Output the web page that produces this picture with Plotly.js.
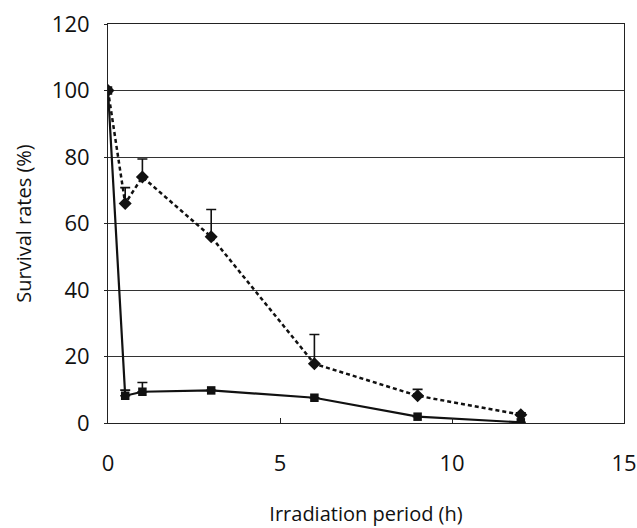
<!DOCTYPE html>
<html><head><meta charset="utf-8">
<script src="https://cdn.plot.ly/plotly-3.0.1.min.js"></script>
<style>html,body{margin:0;padding:0;background:#fff}</style>
</head><body>
<div id="chart" style="width:637px;height:528px"></div>
<script>
const hours = [0, 0.5, 1, 3, 6, 9, 12];
const dashedValues = [100, 66, 74, 56, 17.8, 8.2, 2.5];
const dashedErrUp = [0, 4.8, 5.4, 8.2, 8.8, 1.9, 0.6];
const solidValues = [100, 8.2, 9.4, 9.8, 7.6, 1.9, 0.2];
const solidErrUp = [0, 1.7, 2.8, 0, 0, 0, 0];
const zeros = [0, 0, 0, 0, 0, 0, 0];
const xTicks = [0, 5, 10, 15];
const yTicks = [0, 20, 40, 60, 80, 100, 120];

const traces = [
  {
    x: hours, y: dashedValues, type: 'scatter', mode: 'lines+markers',
    line: {color: '#111', width: 2.5, dash: '4px,3px'},
    marker: {symbol: 'diamond', size: 10, color: '#111'},
    error_y: {type: 'data', symmetric: false, array: dashedErrUp, arrayminus: zeros,
              color: '#111', thickness: 1.6, width: 5},
    showlegend: false
  },
  {
    x: hours, y: solidValues, type: 'scatter', mode: 'lines+markers',
    line: {color: '#111', width: 2.2},
    marker: {symbol: 'square', size: 8.5, color: '#111'},
    error_y: {type: 'data', symmetric: false, array: solidErrUp, arrayminus: zeros,
              color: '#111', thickness: 1.6, width: 5},
    showlegend: false
  }
];

const layout = {
  width: 637, height: 528,
  margin: {l: 108, r: 13, t: 24, b: 105},
  paper_bgcolor: '#fff', plot_bgcolor: '#fff',
  font: {family: 'Open Sans, sans-serif', color: '#111'},
  xaxis: {
    range: [0, 15], tickvals: xTicks, ticktext: xTicks.map(String),
    showgrid: false, zeroline: false, showline: true, mirror: true,
    linecolor: '#222', linewidth: 1, ticks: 'inside', ticklen: 5, tickcolor: '#222',
    tickfont: {size: 22, family: 'Open Sans, sans-serif'},
    ticklabelstandoff: 21,
    title: {text: 'Irradiation period (h)', font: {size: 20, family: 'Open Sans, sans-serif'}, standoff: 30}
  },
  yaxis: {
    range: [0, 120], tickvals: yTicks, ticktext: yTicks.map(String),
    showgrid: true, gridcolor: '#333', gridwidth: 1, zeroline: false,
    showline: true, mirror: true, linecolor: '#222', linewidth: 1,
    ticks: 'outside', ticklen: 3, tickcolor: '#222',
    tickfont: {size: 22, family: 'Open Sans, sans-serif'},
    ticklabelstandoff: 10,
    title: {text: 'Survival rates (%)', font: {size: 20, family: 'Open Sans, sans-serif'}, standoff: 14}
  }
};

Plotly.newPlot('chart', traces, layout, {displayModeBar: false, staticPlot: true});
</script>
</body></html>
